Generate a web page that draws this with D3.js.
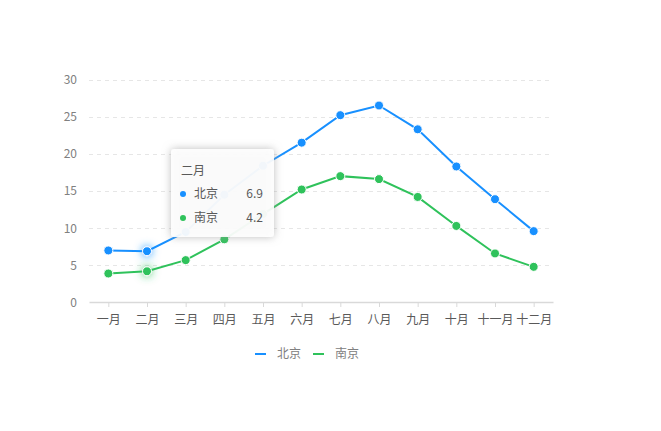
<!DOCTYPE html>
<html><head><meta charset="utf-8">
<script src="https://cdn.jsdelivr.net/npm/d3@7"></script>
<style>
body{margin:0;background:#fff;font-family:"Noto Sans CJK SC","Noto Sans",sans-serif;}
svg{display:block}
</style></head>
<body><svg id="c" width="661" height="431"></svg>
<script>
const months = ["一月","二月","三月","四月","五月","六月","七月","八月","九月","十月","十一月","十二月"];
const seriesNames = ["北京","南京"];
const beijing = [7.0, 6.9, 9.5, 14.5, 18.4, 21.5, 25.2, 26.5, 23.3, 18.3, 13.9, 9.6];
const nanjing = [3.9, 4.2, 5.7, 8.5, 11.9, 15.2, 17.0, 16.6, 14.2, 10.3, 6.6, 4.8];
const yTicks = [0, 5, 10, 15, 20, 25, 30];
const colors = ["#1890ff", "#2fc25b"];
const hoverIndex = 1;

const svg = d3.select("#c");
const x = d3.scalePoint().domain(months).range([89, 553]).padding(0.5);
const y = d3.scaleLinear().domain([0, 30]).range([302.5, 79.5]);
const font = '"Noto Sans CJK SC","Noto Sans",sans-serif';

const defs = svg.append("defs");
colors.forEach((c, i) => {
  const f = defs.append("filter").attr("id", "glow" + i).attr("x", "-200%").attr("y", "-200%").attr("width", "500%").attr("height", "500%");
  f.append("feDropShadow").attr("dx", 0).attr("dy", 0).attr("stdDeviation", 4).attr("flood-color", c).attr("flood-opacity", 0.9);
});
const ts = defs.append("filter").attr("id", "tshadow").attr("x", "-20%").attr("y", "-20%").attr("width", "140%").attr("height", "140%");
ts.append("feDropShadow").attr("dx", 0).attr("dy", 0).attr("stdDeviation", 4).attr("flood-color", "#999").attr("flood-opacity", 0.7);

// grid
svg.append("g").selectAll("line").data(yTicks.filter(d => d > 0)).join("line")
  .attr("x1", 89).attr("x2", 553).attr("y1", d => Math.round(y(d))).attr("y2", d => Math.round(y(d)))
  .attr("stroke", "#e6e6e6").attr("stroke-dasharray", "4,4").attr("shape-rendering", "crispEdges");

// y axis
const ya = svg.append("g").attr("transform", "translate(89,0)").call(d3.axisLeft(y).tickValues(yTicks).tickSize(0).tickPadding(12));
ya.select(".domain").remove();
ya.selectAll("text").attr("fill", "#808080").attr("font-size", 12).attr("font-family", font);

// x axis
const xa = svg.append("g").attr("transform", "translate(0,302)").call(d3.axisBottom(x).tickSize(5).tickPadding(8).tickSizeOuter(0));
xa.select(".domain").attr("stroke", "#d9d9d9").attr("stroke-width", 1.5);
xa.selectAll(".tick line").attr("stroke", "#d9d9d9");
xa.selectAll("text").attr("fill", "#595959").attr("font-size", 12).attr("font-family", font);

const data = [beijing, nanjing];
const line = d3.line().x((d, i) => x(months[i])).y(d => y(d));
data.forEach((s, k) => {
  svg.append("path").datum(s).attr("d", line).attr("fill", "none").attr("stroke", colors[k]).attr("stroke-width", 2);
  svg.append("g").selectAll("circle").data(s).join("circle")
    .attr("cx", (d, i) => x(months[i])).attr("cy", d => y(d)).attr("r", 4.5)
    .attr("fill", colors[k]).attr("stroke", "#fff").attr("stroke-width", 1)
    .attr("filter", (d, i) => i === hoverIndex ? `url(#glow${k})` : null);
});

// tooltip
const tx = 171, ty = 149;
const tg = svg.append("g").attr("transform", `translate(${tx},${ty})`);
tg.append("rect").attr("width", 103).attr("height", 88).attr("rx", 3)
  .attr("fill", "#fff").attr("fill-opacity", 0.9).attr("filter", "url(#tshadow)");
tg.append("text").attr("x", 10).attr("y", 26).text(months[hoverIndex])
  .attr("font-size", 12).attr("fill", "#595959").attr("font-family", font);
data.forEach((s, k) => {
  const yy = 45 + k * 24;
  tg.append("circle").attr("cx", 12).attr("cy", yy).attr("r", 3).attr("fill", colors[k]);
  tg.append("text").attr("x", 23).attr("y", yy + 4).text(seriesNames[k])
    .attr("font-size", 12).attr("fill", "#595959").attr("font-family", font);
  tg.append("text").attr("x", 92).attr("y", yy + 4).attr("text-anchor", "end").text(s[hoverIndex].toFixed(1))
    .attr("font-size", 12).attr("fill", "#595959").attr("font-family", font);
});

// legend
const lg = svg.append("g");
const legendX = [255, 313];
seriesNames.forEach((n, k) => {
  lg.append("line").attr("x1", legendX[k]).attr("x2", legendX[k] + 11).attr("y1", 354).attr("y2", 354)
    .attr("stroke", colors[k]).attr("stroke-width", 2);
  lg.append("text").attr("x", legendX[k] + 22).attr("y", 358).text(n)
    .attr("font-size", 12).attr("fill", "#808080").attr("font-family", font);
});
</script></body></html>
